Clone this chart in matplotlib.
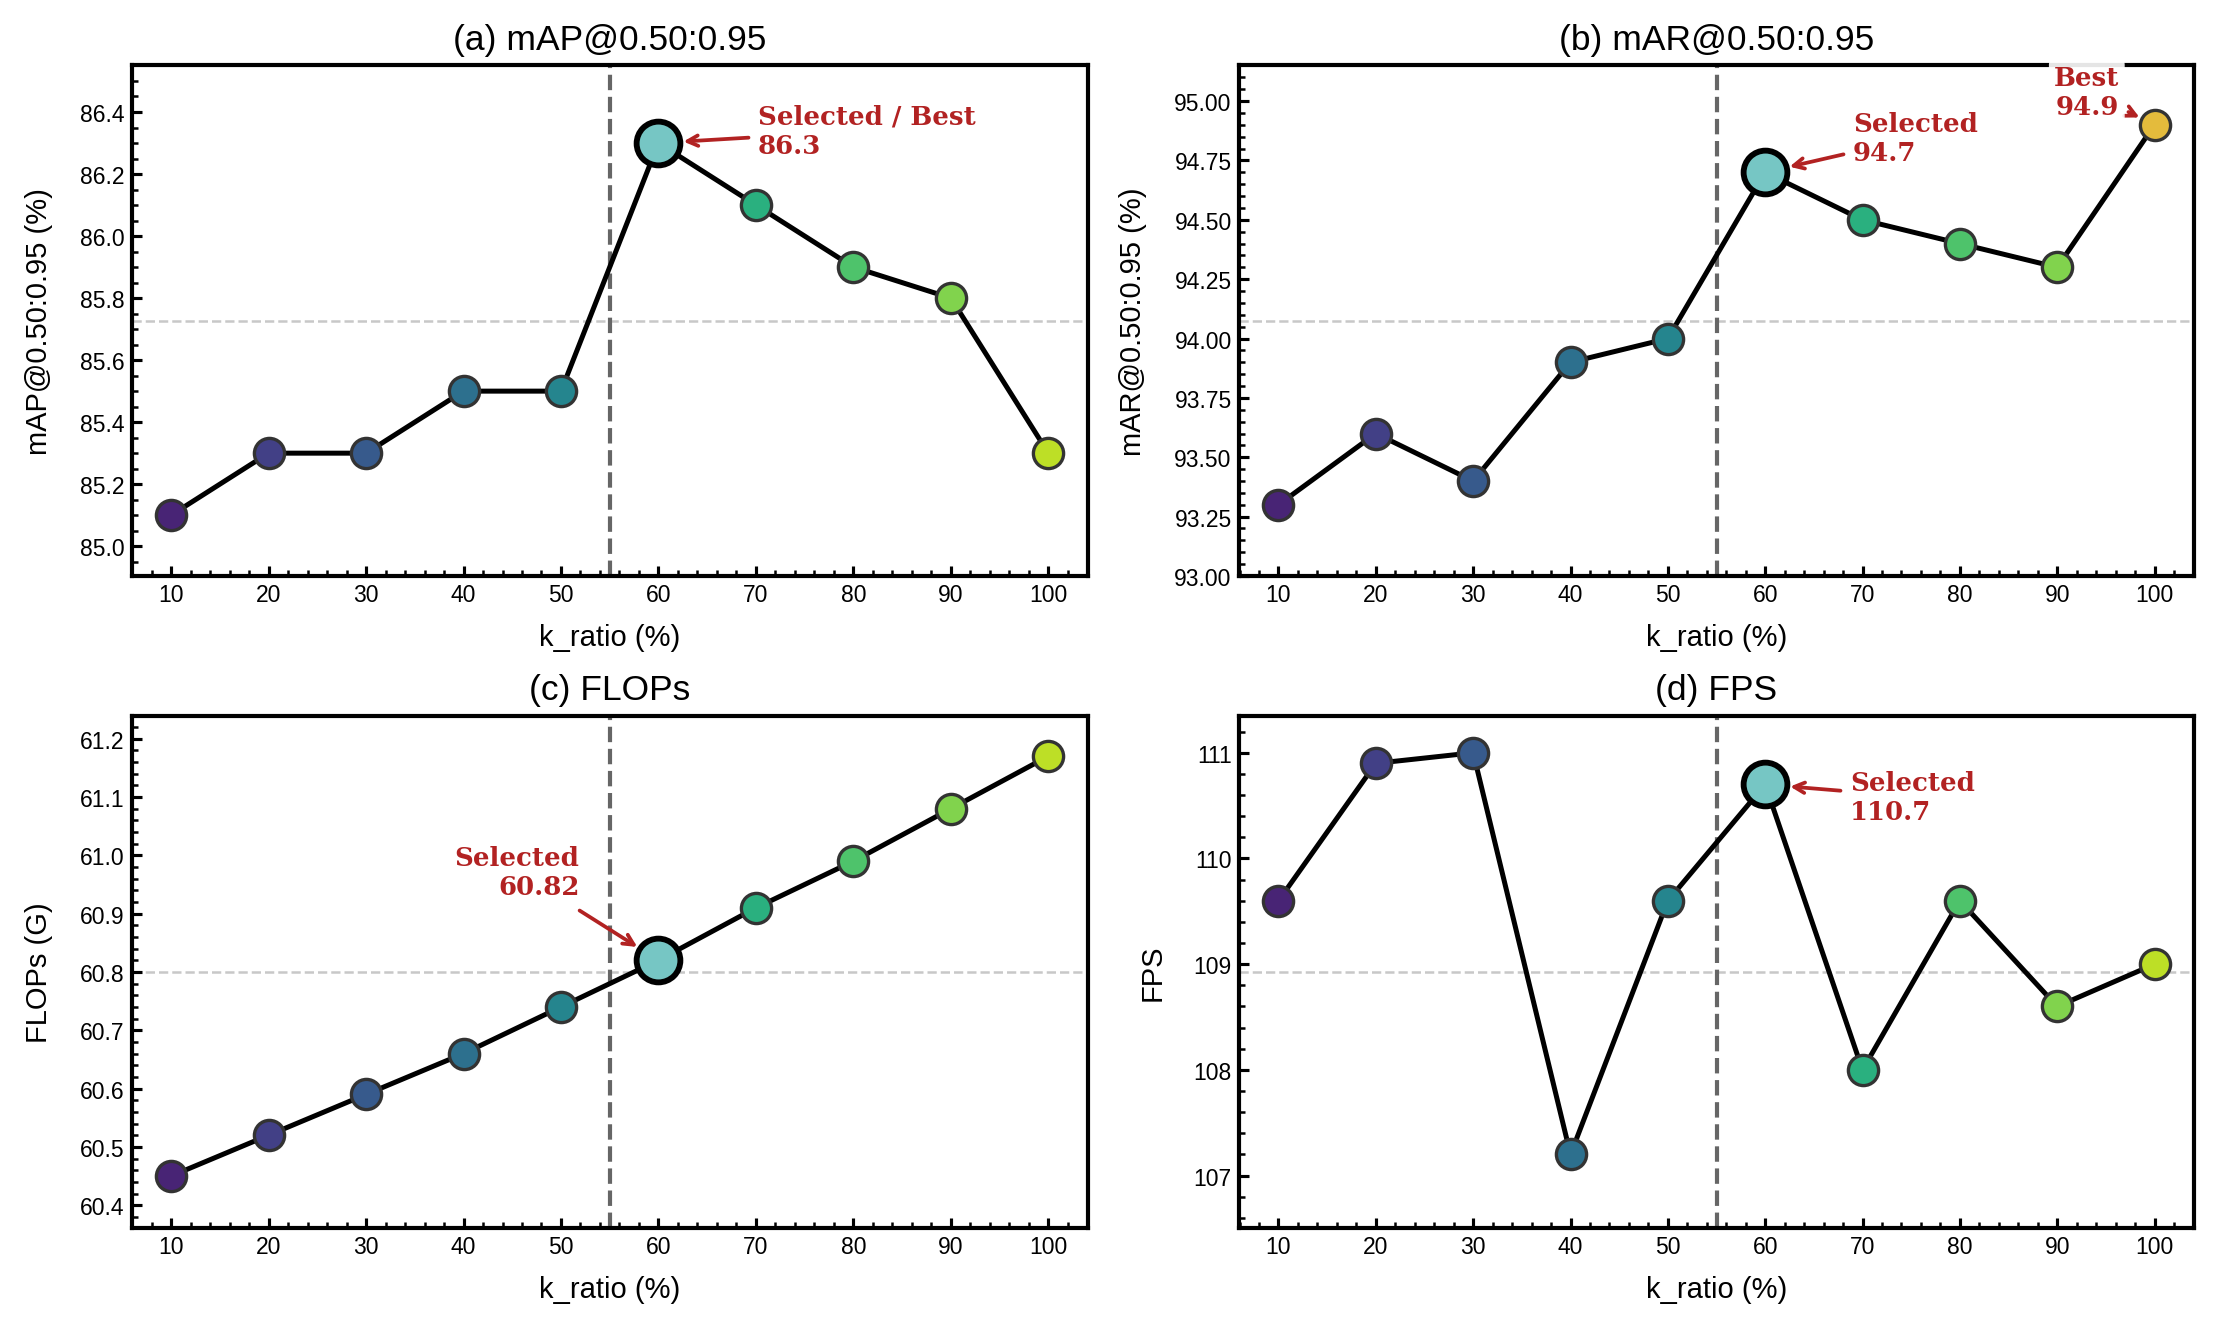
import numpy as np
import matplotlib
matplotlib.use("Agg")
import matplotlib.pyplot as plt
from matplotlib.ticker import AutoMinorLocator

plt.rcParams["font.family"] = ["Liberation Sans", "DejaVu Sans"]

# Données
k_ratio = [10, 20, 30, 40, 50, 60, 70, 80, 90, 100]
map_vals = [85.1, 85.3, 85.3, 85.5, 85.5, 86.3, 86.1, 85.9, 85.8, 85.3]
mar_vals = [93.3, 93.6, 93.4, 93.9, 94.0, 94.7, 94.5, 94.4, 94.3, 94.9]
flops_vals = [60.45, 60.52, 60.59, 60.66, 60.74, 60.82, 60.91, 60.99, 61.08, 61.17]
fps_vals = [109.6, 110.9, 111.0, 107.2, 109.6, 110.7, 108.0, 109.6, 108.6, 109.0]

titles = ["(a) mAP@0.50:0.95", "(b) mAR@0.50:0.95", "(c) FLOPs", "(d) FPS"]
ylabels = ["mAP@0.50:0.95 (%)", "mAR@0.50:0.95 (%)", "FLOPs (G)", "FPS"]
ylims = [(84.904, 86.55), (93.0, 95.15), (60.361, 61.239), (106.505, 111.348)]
selected_k = 60
best_k_mar = 100

red = "#b22222"
colors = plt.cm.viridis(np.linspace(0.1, 0.9, len(k_ratio)))

fig = plt.figure(figsize=(2218 / 150, 1327 / 150), dpi=150)
positions = [
    [0.0593, 0.5652, 0.4312, 0.3847],
    [0.5586, 0.5652, 0.4306, 0.3847],
    [0.0593, 0.0739, 0.4312, 0.3858],
    [0.5586, 0.0739, 0.4306, 0.3858],
]
axes = [fig.add_axes(p) for p in positions]
series = [map_vals, mar_vals, flops_vals, fps_vals]

for i, (ax, vals) in enumerate(zip(axes, series)):
    ax.set_xlim(5.94, 104.06)
    ax.set_ylim(*ylims[i])
    # ligne moyenne (milieu de l'axe) + seuil k=55
    ax.plot([0, 1], [0.5, 0.5], transform=ax.transAxes, color="#c8c8c8",
            lw=1.2, ls="--", zorder=1)
    ax.axvline(55, color="#666666", lw=2, ls="--", zorder=1)
    ax.plot(k_ratio, vals, color="black", lw=2.4, zorder=2)
    for j, (k, v) in enumerate(zip(k_ratio, vals)):
        if k == selected_k:
            ax.plot(k, v, "o", ms=21, mfc="#76c6c4", mec="black", mew=2.8, zorder=4)
        elif i == 1 and k == best_k_mar:
            ax.plot(k, v, "o", ms=14.5, mfc="#e4bb3c", mec="#333333", mew=1.6, zorder=3)
        else:
            ax.plot(k, v, "o", ms=14.5, mfc=colors[j], mec="#333333", mew=1.6, zorder=3)

    ax.set_title(titles[i], fontsize=17, pad=8)
    ax.set_xlabel("k_ratio (%)", fontsize=14, labelpad=8)
    ax.set_ylabel(ylabels[i], fontsize=14, labelpad=13)
    ax.set_xticks(k_ratio)
    ax.xaxis.set_minor_locator(AutoMinorLocator())
    ax.yaxis.set_minor_locator(AutoMinorLocator())
    ax.tick_params(which="major", direction="in", length=5, width=1.5, labelsize=11,
                   top=False, right=False)
    ax.tick_params(which="minor", direction="in", length=3, width=1.2,
                   top=False, right=False)
    for s in ax.spines.values():
        s.set_linewidth(2)

ann_kw = dict(fontsize=12.5, fontweight="bold", color=red, family="DejaVu Serif",
              va="center", zorder=6,
              bbox=dict(boxstyle="round,pad=0.2", fc="white", ec="none", alpha=0.9))
arrow_kw = dict(arrowstyle="->", color=red, lw=1.8, shrinkA=2, shrinkB=12)

axes[0].annotate("Selected / Best\n86.3", xy=(60, 86.3), xytext=(70.2, 86.34),
                 ha="left", arrowprops=arrow_kw, **ann_kw)
axes[1].annotate("Selected\n94.7", xy=(60, 94.7), xytext=(69.0, 94.845),
                 ha="left", arrowprops=arrow_kw, **ann_kw)
axes[1].annotate("Best\n94.9", xy=(100, 94.9), xytext=(96.4, 95.04),
                 ha="right", arrowprops=dict(arrow_kw, shrinkB=8), **ann_kw)
axes[2].annotate("Selected\n60.82", xy=(60, 60.82), xytext=(51.9, 60.972),
                 ha="right", multialignment="right",
                 arrowprops=dict(arrow_kw, relpos=(0.85, 0.0), shrinkA=6), **ann_kw)
axes[3].annotate("Selected\n110.7", xy=(60, 110.7), xytext=(68.7, 110.585),
                 ha="left", arrowprops=arrow_kw, **ann_kw)

plt.savefig("out.png", dpi=150)
